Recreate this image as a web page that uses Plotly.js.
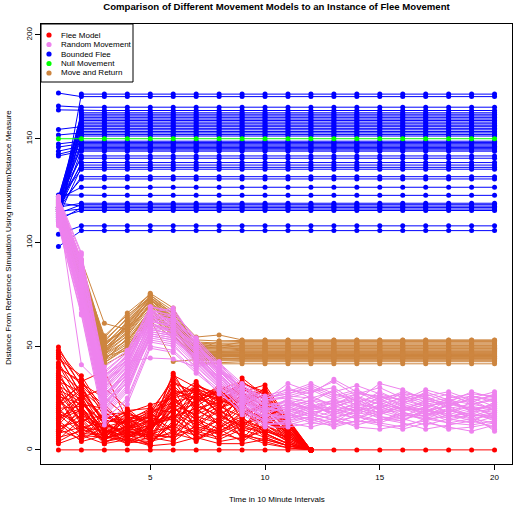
<!DOCTYPE html>
<html>
<head>
<meta charset="utf-8">
<script src="https://cdn.plot.ly/plotly-3.0.1.min.js"></script>
<style>html,body{margin:0;padding:0;background:#fff;}#chart{width:514px;height:507px;}</style>
</head>
<body>
<div id="chart"></div>
<script>
// ---------- DATA ----------
var timeSteps = [1,2,3,4,5,6,7,8,9,10,11,12,13,14,15,16,17,18,19,20];
var xTicks = [5,10,15,20];
var yTicks = [0,50,100,150,200];
var legendNames = ["Flee Model","Random Movement","Bounded Flee","Null Movement","Move and Return"];

// Flee Model (red): values t=1..12 (all reach 0 at t=12)
var fleeSeries = [
 [49.6,30,12,8,6,20,15,10,18,12,5,0],
 [44,35.7,18,10,14,28,22,16,12,8,3,0],
 [42,25,8,15,10,36,30,24,20,14,10,0],
 [39.5,33,38,14,20,18,12,26,31,22,12,0],
 [36,20,6,5,4,12,25,30,15,10,6,0],
 [33,28,15,18,21.7,25,33,20,26,18,8,0],
 [30,12,5,9,7,6,10,14,22,30,14,0],
 [28,18,10,4,12,15,8,5,10,24,11,0],
 [26,22,20,12,8,32,28,18,34.7,26,9,0],
 [24,15,4,7,5,9,20,12,7,5,2,0],
 [22,32,25,16,13,22,17,22,28,31.3,15,0],
 [20,10,7,11,18,8,5,9,14,10,4,0],
 [18,26,14,6,3,14,24,28,19,16,7,0],
 [17,8,12,19,10,26,14,8,5,12,6,0],
 [15,19,9,3,6,4,12,20,24,7,3,0],
 [14,6,16,13,16,10,7,15,9,20,12,0],
 [12,24,6,8,2,18,26,11,16,6,2,0],
 [11,14,3,10,9,30,9,6,12,18,8,0],
 [10,5,11,5,15,5,18,25,8,4,1,0],
 [9,17,8,14,7,12,4,13,21,14,10,0],
 [8,11,13,7,11,24,16,4,6,9,5,0],
 [7,21,5,12,4,7,11,19,13,15,7,0],
 [6,9,17,9,12,16,6,10,4,11,4,0],
 [45,27,10,6,9,11,21,17,11,8,3,0],
 [38,16,7,17,5,20,13,7,18,13,9,0],
 [32,13,22,11,14,9,29,23,10,6,2,0],
 [29,23,9,4,3,13,8,16,25,19,11,0],
 [25,7,6,8,10,37,19,14,7,3,1,0],
 [21,29,14,15,8,6,23,29,17,21,13,0],
 [19,12,4,6,11,17,10,8,13,9,6,0],
 [16,20,11,9,6,8,15,21,5,17,4,0],
 [13,4,7,3,9,22,5,11,20,8,3,0],
 [4,10,5,10,13,15,27,18,9,12,7,0],
 [3,7,3,5,2,3,6,3,3,5,2,0],
 [47,31,20,13,17,26,11,9,15,23,8,0],
 [35,25,30,20,11,19,31,27,22,13,10,0],
 [48,34,16,12,19,33,27,25,29,27,13,0],
 [41,22,13,17,15,29,24,31,27,25,14,0],
 [37,29,19,8,12,27,29,26,32,28,12,0],
 [34,17,11,14,18,23,26,22,30,24,11,0],
 [31,24,8,11,16,31,21,28,24,29,14.5,0],
 [27,14,17,18,13,21,32,25,18,22,9,0],
 [23,31,12,9,7,34,18,27,23,20,12,0],
 [20,21,6,15,19,27,30,19,28,17,8,0],
 [18,11,9,7,10,19,22,30,26,25,13,0],
 [13,27,14,13,6,25,28,24,21,27,10,0],
 [9,19,4,16,14,16,20,23,31,19,7,0],
 [5,15,10,4,8,29,25,21,16,23,11,0],
 [46,26,5,19,20,14,31,26,19,15,6,0],
 [40,32,21,10,17,35,23,29,33,26,12,0],
 [26,8,7,12,5,24,16,13,27,21,9,0],
 [15,23,13,6,11,20,29,17,24,28,13,0]
];
var fleeZero = [0,0,0,0,0,0,0,0,0,0,0,0,0,0,0,0,0,0,0,0];

// Random Movement (violet): values t=1..20
var randomSeries = [
 [116,41,30,42.6,44.3,43.8,40,42.6,28,22,19,21,24,20,18,22,19,17,20,18],
 [121,88,35,46,66,68.4,52,38,30,24,32,28,33,26,22,25,21,23,19,22],
 [118,82,25,38,62,60,48,36,26,18,20,17,15,19,21,16,18,14,17,15],
 [113,75,18,30,58,56,44,33,22,15,14,18,20,16,13,17,15,19,16,20],
 [120,92,38,47,68,64,53,41,31,25,27,31,26,29,24,28,25,22,26,24],
 [110,68,14,25,52,50,40,30,20,13,12,15,11,14,12,10,13,11,9,12],
 [117,80,28,40,64,62,50,39,27,21,24,22,18,23,19,20,23,18,21,19],
 [115,78,22,35,60,58,46,35,24,17,16,20,23,18,26,21,17,20,15,17],
 [122,90,32,44,67,65,51,40,29,23,30,25,28,31,27,24,29,26,23,27],
 [108,65,12,22,49,47,37,28,18,12,13,11,14,12,15,13,10,12,14,11],
 [119,85,30,42,65,61,49,37,25,19,22,26,21,24,20,26,22,24,22,25],
 [114,72,20,33,57,55,43,32,21,16,18,14,17,21,16,14,20,16,18,14],
 [120,86,36,45,63,59,47,34,23,17,15,19,16,13,18,15,12,15,13,16],
 [112,70,16,28,55,53,42,31,19,14,17,13,12,17,14,18,16,13,15,10],
 [118,84,26,39,61,57,45,33,23,18,25,23,29,21,25,19,24,21,25,21],
 [116,79,24,37,59,57,48,38,28,23,21,24,19,22,28,23,20,25,18,23],
 [121,94,40,48,69,66,54,42,32,26,29,27,34,28,23,27,26,28,24,26],
 [109,66,15,24,50,48,38,29,17,11,11,13,15,11,10,12,14,10,11,13],
 [117,81,27,36,56,54,45,35,25,20,19,16,22,25,17,21,18,22,20,17],
 [119,87,33,43,62,60,50,39,29,24,26,29,24,27,30,25,27,23,28,25],
 [111,71,19,31,54,52,41,30,20,14,16,21,18,15,19,16,21,17,14,18],
 [115,76,21,34,57,55,44,32,22,16,23,18,20,17,22,18,16,19,21,16],
 [120,89,34,46,64,63,52,40,30,25,28,32,27,24,32,29,24,27,22,20],
 [113,73,23,32,53,51,39,27,19,12,14,16,13,20,15,14,19,15,17,9],
 [122,95,37,47,69,67,53,41,31,25,27,30,25,28,25,27,23,25,27,26],
 [118,83,29,41,66,64,51,38,28,21,23,20,24,22,20,24,21,23,20,21],
 [114,74,21,36,63,61,49,37,26,20,18,22,17,20,23,19,22,18,23,19],
 [120,90,31,44,61,58,46,34,24,18,21,17,21,19,17,21,19,21,16,18],
 [111,69,17,29,56,54,43,33,22,15,17,15,19,15,21,17,15,16,19,15],
 [117,80,25,39,60,57,47,36,27,22,20,24,22,26,19,23,25,20,22,24],
 [119,88,33,45,67,62,50,38,27,19,24,19,23,18,24,20,18,24,19,22],
 [115,77,23,35,58,56,45,35,25,17,15,18,14,16,14,18,14,17,15,13],
 [121,91,36,43,65,63,51,39,30,24,25,28,30,23,26,22,28,24,26,23],
 [112,72,19,33,55,53,44,34,23,16,19,23,16,18,16,15,17,19,17,16],
 [116,79,27,38,62,59,48,36,24,19,22,20,18,21,18,19,20,16,18,20],
 [118,85,30,40,64,60,49,37,26,21,17,21,20,25,22,20,16,22,24,19],
 [113,74,24,37,59,55,42,31,21,14,13,16,12,14,13,11,15,13,12,14],
 [120,89,32,42,66,62,50,38,28,23,26,25,22,27,26,24,26,21,25,28]
];

// Bounded Flee (blue): value at t=1 and the constant value held from t=2 to t=20
var boundedStart = [112,172,165.8,163.9,118,121,115,119,110,122,116,113,120,154.5,117,111,121.5,151.8,114,119.5,
                    147.5,118.5,146,116.5,144,120.5,142.5,113.5,141.7,117.5,122,115.5,119,112.5,120,116,118,121,122.9,
                    117,114,119,110.5,115,112,104,98];
var boundedLevel = [171.5,170.3,165.2,163.6,162.5,161.8,161,160.3,159.5,158.8,158,157.2,156.5,155.8,155,154.3,153.5,152.8,152,151.3,
                    148.8,148.2,147.6,147,146.4,145.8,145.2,144.6,144,141.7,140.6,138.5,137.3,136.2,135.3,131.7,130.6,126.6,122.7,
                    118.9,118.2,117.5,116.8,116.1,115.4,108,105.7];

// Null Movement (green)
var nullSeries = [150,150,150,150,150,150,150,150,150,150,150,150,150,150,150,150,150,150,150,150];

// Move and Return (peru): values t=1..8, then the constant value held from t=9 to t=20
var returnEarly = [
 [120,91.5,61,58,72,66,54.4,55.4],
 [118,88,52,64,75.5,68.4,50,49],
 [121,86,48,60,74,64,48,47.5],
 [117,84,46,55,70,62,46,46],
 [119,82,50,62,73,60,52,51.5],
 [115,80,44,52,68,58,44,44.5],
 [120,87,54,66,75,65,49,48.5],
 [116,83,42,50,66,56,43,43],
 [118,85,47,57,71,63,47,47],
 [114,78,45,48,64,55,45,45],
 [122,90,53,63,74.5,67,51,50],
 [117,81,49,59,69,61,42,42],
 [119,84,43,54,67,57,48.5,48],
 [121,89,51,61,72,64,53,52.5],
 [116,79,46,53,65,59,44.5,44],
 [118,86,55,65,73.5,66,50.5,50.5],
 [115,77,41,47,62,54,46.5,46.5],
 [120,85,48,56,70.5,62.5,41.5,41.5],
 [117,83,44,51,67.5,58.5,47.5,47.5],
 [119,87,50,60,71.5,60.5,49.5,49.5],
 [116,80,42,49,63,42.6,43.5,43.5],
 [121,88,52,58,73,61.5,51.5,51],
 [118,82,47,55,68.5,57.5,45.5,45.5],
 [120,86,45,62,74,63.5,48,52.5],
 [119,84,49,58,69.5,59.5,45,45],
 [117,81,45,53,66,56.5,47,47],
 [120,86,51,59,72.5,63,49,49],
 [116,79,43,50,64.5,55.5,44,44],
 [118,83,48,57,70,61,50,50],
 [121,87,47,61,73.5,62,46,46]
];
var returnLevel = [53,50.5,48,46,51.5,44,49,43,47,45,52,42.5,48.5,52.8,44.5,50,46.5,41.5,47.5,49.5,43.5,51,45.5,52.2,
                   45.2,47.2,49,44.2,50.2,46.2];

// ---------- STYLE ----------
var colFlee = "#FF0000", colRandom = "#EE82EE", colBounded = "#0000FF", colNull = "#00FF00", colReturn = "#CD853F";
var FONT = "Liberation Sans, Arial, Helvetica, sans-serif";
var W = 514, H = 507, ML = 41, MR = 2, MT = 24, MB = 43;
var PW = W - ML - MR, PH = H - MT - MB;
function px(x){ return (x - ML) / PW; }
function py(y){ return (H - MB - y) / PH; }

var traces = [];
function addLine(xs, ys, col){
  traces.push({x: xs, y: ys, type: "scatter", mode: "lines+markers",
    line: {color: col, width: 1}, marker: {color: col, size: 5},
    hoverinfo: "skip", showlegend: false});
}
// red
fleeSeries.forEach(function(s){ addLine(timeSteps.slice(0, s.length), s, colFlee); });
addLine(timeSteps, fleeZero, colFlee);
// blue
boundedStart.forEach(function(s, i){
  var ys = [s];
  for (var k = 1; k < timeSteps.length; k++) ys.push(boundedLevel[i]);
  addLine(timeSteps, ys, colBounded);
});
// orange
returnEarly.forEach(function(s, i){
  var ys = s.slice();
  for (var k = s.length; k < timeSteps.length; k++) ys.push(returnLevel[i]);
  addLine(timeSteps, ys, colReturn);
});
// pink
randomSeries.forEach(function(s){ addLine(timeSteps, s, colRandom); });
// green
addLine(timeSteps, nullSeries, colNull);

// legend drawn as shapes + annotations
var legendCols = [colFlee, colRandom, colBounded, colNull, colReturn];
var legendY = [35, 44.5, 54, 63.5, 73];
var shapes = [{type: "rect", xref: "paper", yref: "paper", x0: 0, x1: px(133), y0: py(82), y1: 1,
  line: {color: "#000", width: 1}, fillcolor: "rgba(255,255,255,1)", layer: "above"}];
var annotations = [];
legendNames.forEach(function(n, i){
  shapes.push({type: "circle", xref: "paper", yref: "paper", xsizemode: "pixel", ysizemode: "pixel",
    xanchor: px(49), yanchor: py(legendY[i]), x0: -2.6, x1: 2.6, y0: -2.6, y1: 2.6,
    fillcolor: legendCols[i], line: {width: 0}, layer: "above"});
  annotations.push({xref: "paper", yref: "paper", x: px(59), y: py(legendY[i]), xanchor: "left", yanchor: "middle",
    text: n, showarrow: false, font: {family: FONT, size: 8, color: "#000"}});
});
annotations.push({xref: "paper", yref: "paper", x: 0.5, y: py(499), xanchor: "center", yanchor: "middle",
  text: "Time in 10 Minute Intervals", showarrow: false, font: {family: FONT, size: 8, color: "#000"}});
annotations.push({xref: "paper", yref: "paper", x: px(8), y: py(238), xanchor: "center", yanchor: "middle", textangle: -90,
  text: "Distance From Reference Simulation Using maximumDistance Measure", showarrow: false,
  font: {family: FONT, size: 8, color: "#000"}});

var layout = {
  width: W, height: H,
  margin: {l: ML, r: MR, t: MT, b: MB, pad: 0},
  paper_bgcolor: "#fff", plot_bgcolor: "#fff",
  showlegend: false,
  title: {text: "<b>Comparison of Different Movement Models to an Instance of Flee Movement</b>",
    font: {family: FONT, size: 9.6, color: "#000"}, x: 0.5, xref: "paper", xanchor: "center",
    y: 1 - 6.5 / H, yref: "container", yanchor: "middle"},
  xaxis: {range: [0.24, 20.76], tickvals: xTicks, ticktext: xTicks.map(String), ticks: "outside", ticklen: 5,
    tickcolor: "#000", tickwidth: 1, showline: true, mirror: true, linecolor: "#000", linewidth: 1,
    showgrid: false, zeroline: false, tickfont: {family: FONT, size: 8, color: "#000"}},
  yaxis: {range: [-6.8, 205.3], tickvals: yTicks, ticktext: yTicks.map(String), ticks: "outside", ticklen: 5,
    tickcolor: "#000", tickwidth: 1, showline: true, mirror: true, linecolor: "#000", linewidth: 1,
    showgrid: false, zeroline: false, tickangle: -90, tickfont: {family: FONT, size: 8, color: "#000"}},
  shapes: shapes, annotations: annotations
};
Plotly.newPlot("chart", traces, layout, {displayModeBar: false, staticPlot: true});
</script>
</body>
</html>
